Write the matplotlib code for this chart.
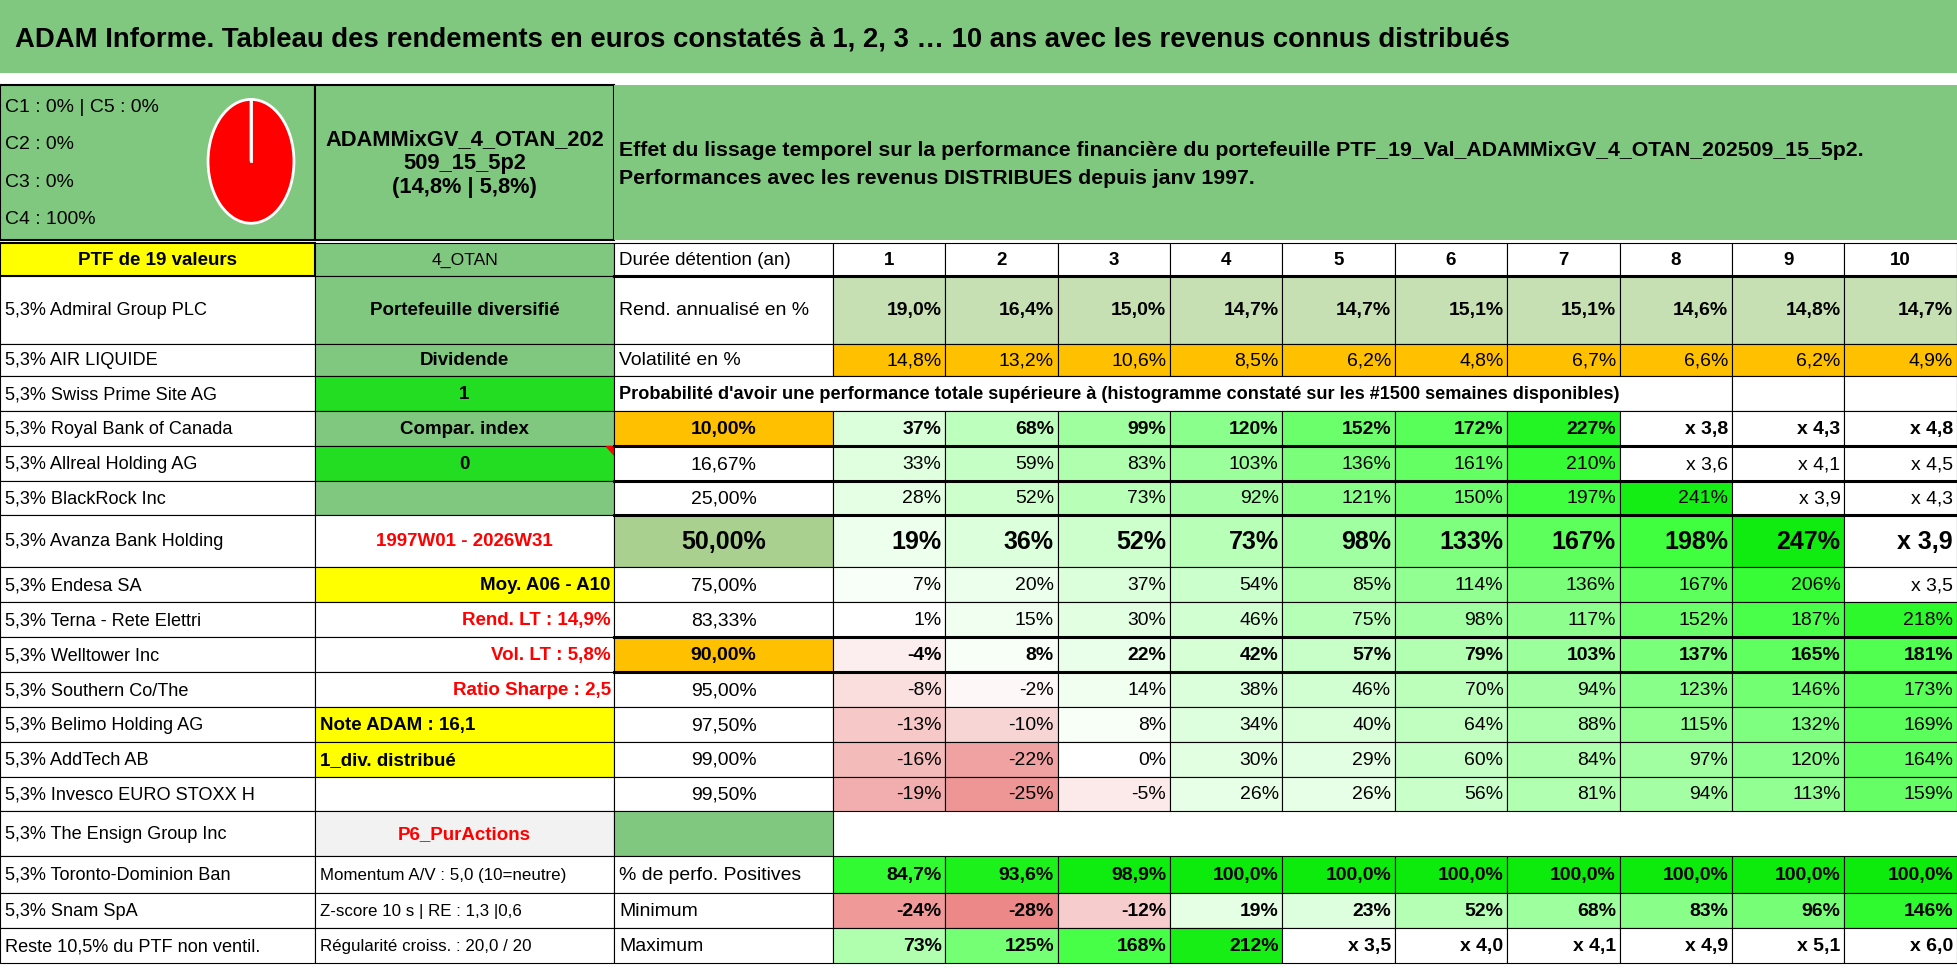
import matplotlib.pyplot as plt
from matplotlib.patches import Rectangle

plt.rcParams['font.family'] = ['Liberation Sans Narrow', 'Liberation Sans', 'DejaVu Sans']

TITLE = "ADAM Informe. Tableau des rendements en euros constatés à 1, 2, 3 … 10 ans avec les revenus connus distribués"
ALLOC = ["C1 : 0% | C5 : 0%", "C2 : 0%", "C3 : 0%", "C4 : 100%"]
ALLOC_PIE = [0, 0, 0, 100, 0]
PTF_NAME = "ADAMMixGV_4_OTAN_202\n509_15_5p2\n(14,8% | 5,8%)"
EFFET = ("Effet du lissage temporel sur la performance financière du portefeuille PTF_19_Val_ADAMMixGV_4_OTAN_202509_15_5p2.\n"
         "Performances avec les revenus DISTRIBUES depuis janv 1997.")
YEARS = [str(i) for i in range(1, 11)]
REND = ["19,0%", "16,4%", "15,0%", "14,7%", "14,7%", "15,1%", "15,1%", "14,6%", "14,8%", "14,7%"]
VOL = ["14,8%", "13,2%", "10,6%", "8,5%", "6,2%", "4,8%", "6,7%", "6,6%", "6,2%", "4,9%"]
HOLDINGS = ["5,3% Admiral Group PLC", "5,3% AIR LIQUIDE", "5,3% Swiss Prime Site AG", "5,3% Royal Bank of Canada",
            "5,3% Allreal Holding AG", "5,3% BlackRock Inc", "5,3% Avanza Bank Holding", "5,3% Endesa SA",
            "5,3% Terna - Rete Elettri", "5,3% Welltower Inc", "5,3% Southern Co/The", "5,3% Belimo Holding AG",
            "5,3% AddTech AB", "5,3% Invesco EURO STOXX H", "5,3% The Ensign Group Inc", "5,3% Toronto-Dominion Ban",
            "5,3% Snam SpA", "Reste 10,5% du PTF non ventil."]
INFO = ["Portefeuille diversifié", "Dividende", "1", "Compar. index", "0", "", "1997W01 - 2026W31",
        "Moy. A06 - A10", "Rend. LT : 14,9%", "Vol. LT : 5,8%", "Ratio Sharpe : 2,5", "Note ADAM : 16,1",
        "1_div. distribué", "", "P6_PurActions", "Momentum A/V : 5,0 (10=neutre)",
        "Z-score 10 s | RE : 1,3 |0,6", "Régularité croiss. : 20,0 / 20"]
PROBA_TITLE = "Probabilité d'avoir une performance totale supérieure à (histogramme constaté sur les #1500 semaines disponibles)"
QUANTILES = ["10,00%", "16,67%", "25,00%", "50,00%", "75,00%", "83,33%", "90,00%", "95,00%", "97,50%", "99,00%", "99,50%"]
HEAT = [
    ["37%", "68%", "99%", "120%", "152%", "172%", "227%", "x 3,8", "x 4,3", "x 4,8"],
    ["33%", "59%", "83%", "103%", "136%", "161%", "210%", "x 3,6", "x 4,1", "x 4,5"],
    ["28%", "52%", "73%", "92%", "121%", "150%", "197%", "241%", "x 3,9", "x 4,3"],
    ["19%", "36%", "52%", "73%", "98%", "133%", "167%", "198%", "247%", "x 3,9"],
    ["7%", "20%", "37%", "54%", "85%", "114%", "136%", "167%", "206%", "x 3,5"],
    ["1%", "15%", "30%", "46%", "75%", "98%", "117%", "152%", "187%", "218%"],
    ["-4%", "8%", "22%", "42%", "57%", "79%", "103%", "137%", "165%", "181%"],
    ["-8%", "-2%", "14%", "38%", "46%", "70%", "94%", "123%", "146%", "173%"],
    ["-13%", "-10%", "8%", "34%", "40%", "64%", "88%", "115%", "132%", "169%"],
    ["-16%", "-22%", "0%", "30%", "29%", "60%", "84%", "97%", "120%", "164%"],
    ["-19%", "-25%", "-5%", "26%", "26%", "56%", "81%", "94%", "113%", "159%"],
]
STAT_LABELS = ["% de perfo. Positives", "Minimum", "Maximum"]
STATS = [
    ["84,7%", "93,6%", "98,9%", "100,0%", "100,0%", "100,0%", "100,0%", "100,0%", "100,0%", "100,0%"],
    ["-24%", "-28%", "-12%", "19%", "23%", "52%", "68%", "83%", "96%", "146%"],
    ["73%", "125%", "168%", "212%", "x 3,5", "x 4,0", "x 4,1", "x 4,9", "x 5,1", "x 6,0"],
]

GREEN = "#80C880"
LGREEN = "#C6E0B4"
ORANGE = "#FFC000"
YELLOW = "#FFFF00"
BGREEN = "#22DD22"
RED = "#FF0000"


def num(s):
    if s.startswith("x"):
        return None
    return float(s.replace("%", "").replace(",", "."))


def heat_color(s, vmax=250.0, vmin=-30.0):
    v = num(s)
    if v is None:
        return "white"
    if v >= 0:
        t = min(v / vmax, 1.0)
        return (1 - 0.95 * t, 1 - 0.08 * max(t - 0.8, 0) / 0.2, 1 - 0.95 * t)
    t = min(v / vmin, 1.0)
    return (1 - 0.08 * t, 1 - 0.5 * t, 1 - 0.5 * t)


fig = plt.figure(figsize=(19.58, 9.79), dpi=100)
ax = fig.add_axes([0, 0, 1, 1])
ax.set_xlim(0, 1568)
ax.set_ylim(784, 0)
ax.axis("off")
FS = 0.9  # displayed px -> pt


def cell(x0, x1, y0, y1, color="white", text="", ha="center", fs=14, bold=False, tc="black", lw=0.8, edge=True):
    ax.add_patch(Rectangle((x0, y0), x1 - x0, y1 - y0, facecolor=color,
                           edgecolor="black" if edge else "none", lw=lw))
    if text:
        if ha == "center":
            tx = (x0 + x1) / 2
        elif ha == "left":
            tx = x0 + 4
        else:
            tx = x1 - 3
        ax.text(tx, (y0 + y1) / 2, text, ha=ha, va="center", fontsize=fs * FS,
                fontweight="bold" if bold else "normal", color=tc)


# title band
ax.add_patch(Rectangle((0, 0), 1568, 59, facecolor=GREEN, edgecolor="none"))
ax.text(12, 32, TITLE, fontsize=22 * FS, va="center", ha="left", fontweight="semibold")

C0, C1, C2, C3 = 0, 252, 492, 667
YC = [C3 + 90 * i for i in range(11)]
YC[-1] = 1567

# top block
cell(C0, C1, 69, 193, GREEN, lw=1.5)
for i, t in enumerate(ALLOC):
    ax.text(4, 86 + i * 30, t, fontsize=15.5 * FS, va="center")
pax = fig.add_axes([158 / 1568, 1 - 192 / 784, 86 / 1568, 124 / 784])
pax.pie(ALLOC_PIE, colors=["#4472C4", "#ED7D31", "#A5A5A5", RED, "#5B9BD5"], startangle=90,
        counterclock=False, wedgeprops=dict(edgecolor="white", linewidth=2))
pax.plot([0, 0], [0, 1], color="white", lw=2)
pax.set_aspect("auto")
cell(C1, C2, 69, 193, GREEN, PTF_NAME, fs=17.5, bold=True, lw=1.5)
cell(C2, 1568, 69, 193, GREEN, edge=False)
ax.text(C2 + 4, 132, EFFET, fontsize=17 * FS, va="center", ha="left", linespacing=1.6, fontweight="semibold")

# header row
cell(C0, C1, 195, 222, YELLOW, "PTF de 19 valeurs", fs=15, bold=True, lw=1.5)
cell(C1, C2, 195, 222, GREEN, "4_OTAN", fs=14)
cell(C2, C3, 195, 222, "white", "Durée détention (an)", ha="left", fs=15)
for j, y in enumerate(YEARS):
    cell(YC[j], YC[j + 1], 195, 222, "white", y, fs=15, bold=True)

ROWS = [222, 276, 302, 330, 358, 386, 413, 455, 483, 511, 539, 567, 595, 623, 650, 686, 716, 744, 772]

info_style = {
    0: (GREEN, "center", True, "black"), 1: (GREEN, "center", True, "black"), 2: (BGREEN, "center", True, "black"),
    3: (GREEN, "center", True, "black"), 4: (BGREEN, "center", True, "black"), 5: (GREEN, "center", True, "black"),
    6: ("white", "center", True, RED), 7: (YELLOW, "right", True, "black"), 8: ("white", "right", True, RED),
    9: ("white", "right", True, RED), 10: ("white", "right", True, RED), 11: (YELLOW, "left", True, "black"),
    12: (YELLOW, "left", True, "black"), 13: ("white", "center", False, "black"), 14: ("#F2F2F2", "center", True, RED),
    15: ("white", "left", False, "black"), 16: ("white", "left", False, "black"), 17: ("white", "left", False, "black"),
}
for i, (h, inf) in enumerate(zip(HOLDINGS, INFO)):
    y0, y1 = ROWS[i], ROWS[i + 1]
    cell(C0, C1, y0, y1, "white", h, ha="left", fs=14.5)
    col, ha, b, tc = info_style[i]
    cell(C1, C2, y0, y1, col, inf, ha=ha, fs=15 if i < 15 else 13.5, bold=b, tc=tc)

# red comment marker
ax.fill([C2 - 7, C2, C2], [ROWS[4], ROWS[4], ROWS[4] + 7], color=RED)

# rendement / volatilite rows
cell(C2, C3, ROWS[0], ROWS[1], "white", "Rend. annualisé en %", ha="left", fs=15.5)
cell(C2, C3, ROWS[1], ROWS[2], "white", "Volatilité en %", ha="left", fs=15.5)
for j in range(10):
    cell(YC[j], YC[j + 1], ROWS[0], ROWS[1], LGREEN, REND[j], ha="right", fs=15.5, bold=True)
    cell(YC[j], YC[j + 1], ROWS[1], ROWS[2], ORANGE, VOL[j], ha="right", fs=15.5)

# probability title row
cell(C2, YC[8], ROWS[2], ROWS[3], "white", PROBA_TITLE, ha="left", fs=14.5, bold=True)
cell(YC[8], YC[9], ROWS[2], ROWS[3], "white")
cell(YC[9], YC[10], ROWS[2], ROWS[3], "white")

q_colors = {0: ORANGE, 3: "#A9D08E", 6: ORANGE}
bold_rows = {0, 3, 6}
for i, q in enumerate(QUANTILES):
    y0, y1 = ROWS[i + 3], ROWS[i + 4]
    big = 20 if i == 3 else 15.5
    cell(C2, C3, y0, y1, q_colors.get(i, "white"), q, fs=big, bold=i in bold_rows)
    for j, s in enumerate(HEAT[i]):
        cell(YC[j], YC[j + 1], y0, y1, heat_color(s), s, ha="right", fs=big, bold=i in bold_rows)

# ensign row
cell(C2, C3, ROWS[14], ROWS[15], GREEN)

# stats rows
stat_scale = [100.0, 170.0, 220.0]
for k, (lab, vals) in enumerate(zip(STAT_LABELS, STATS)):
    y0, y1 = ROWS[15 + k], ROWS[16 + k]
    cell(C2, C3, y0, y1, "white", lab, ha="left", fs=15.5)
    for j, s in enumerate(vals):
        cell(YC[j], YC[j + 1], y0, y1, heat_color(s, vmax=stat_scale[k]), s, ha="right", fs=15.5, bold=True)

# thicker separators
for y in [222, 358, 386, 413, 511, 539]:
    ax.plot([C2, 1568], [y, y], color="black", lw=2.2)

fig.savefig("out.png", dpi=100)
